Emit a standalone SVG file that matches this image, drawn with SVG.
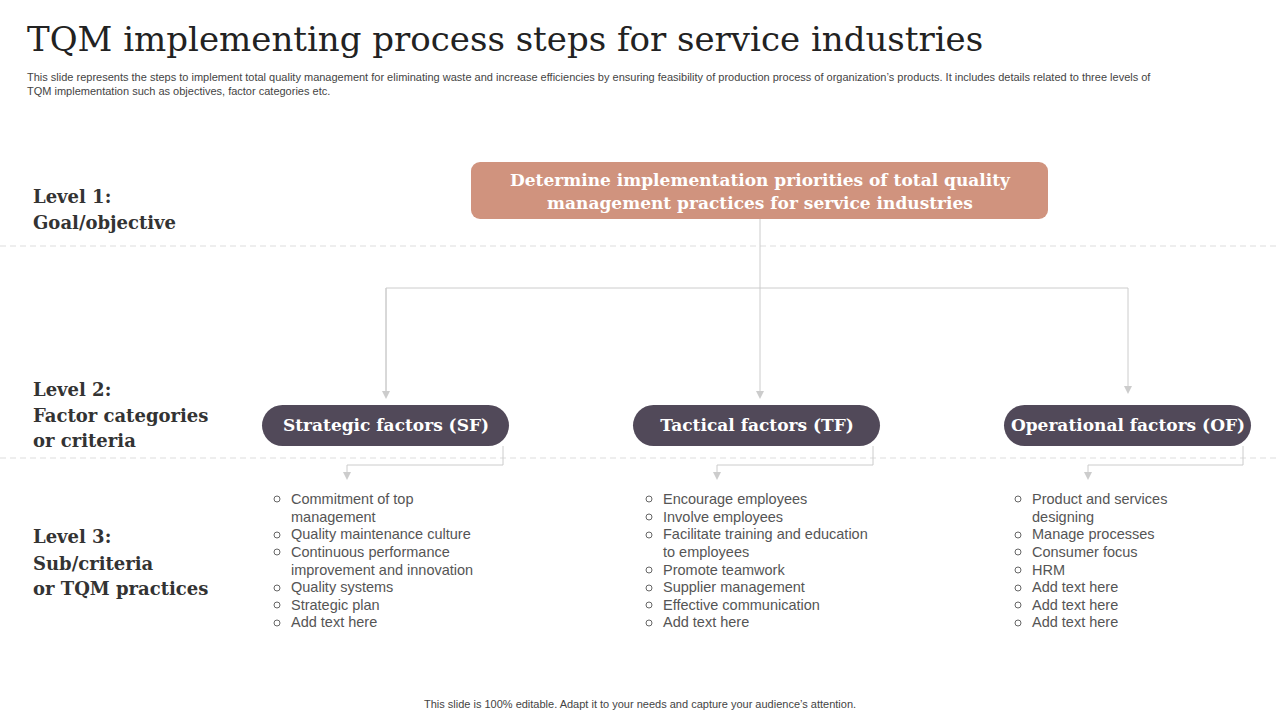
<svg xmlns="http://www.w3.org/2000/svg" width="1280" height="720" viewBox="0 0 1280 720">
<style>
.ttl{font-family:"DejaVu Serif","Liberation Serif",serif;font-size:34px;fill:#222}
.sub{font-family:"Liberation Sans",Arial,sans-serif;font-size:11px;fill:#444}
.lvl{font-family:"DejaVu Serif","Liberation Serif",serif;font-size:20px;fill:#333}
.lvlb{font-family:"DejaVu Serif","Liberation Serif",serif;font-size:18px;font-weight:bold;fill:#333}
.pill{fill:#514959}
.pt{font-family:"DejaVu Serif","Liberation Serif",serif;font-size:17px;font-weight:bold;fill:#fff;text-anchor:middle}
.li{font-family:"Liberation Sans",Arial,sans-serif;font-size:14.5px;fill:#555}
.bul{fill:none;stroke:#666;stroke-width:1}
.dash{stroke:#ddd;stroke-dasharray:6,4;stroke-width:1}
.con{fill:none;stroke:#ccc;stroke-width:1}
.foot{font-family:"Liberation Sans",Arial,sans-serif;font-size:11px;fill:#444;text-anchor:middle}
</style>
<defs><marker id="ar" markerWidth="8" markerHeight="8" refX="4" refY="4" orient="auto" markerUnits="userSpaceOnUse"><path d="M0,0 L8,4 L0,8z" fill="#ccc"/></marker></defs>
<text class="ttl" x="27" y="51">TQM implementing process steps for service industries</text>
<text class="sub" x="27" y="81">This slide represents the steps to implement total quality management for eliminating waste and increase efficiencies by ensuring feasibility of production process of organization’s products. It includes details related to three levels of</text>
<text class="sub" x="27" y="95">TQM  implementation such as objectives, factor categories etc.</text>
<line class="dash" x1="0" y1="246" x2="1280" y2="246"/>
<line class="dash" x1="0" y1="458" x2="1280" y2="458"/>
<g id="levels">
<text class="lvlb" x="33" y="203" font-size="21">Level 1:</text>
<text class="lvlb" x="33" y="229">Goal/objective</text>
<text class="lvlb" x="33" y="396" font-size="21">Level 2:</text>
<text class="lvlb" x="33" y="422">Factor categories</text>
<text class="lvlb" x="33" y="447">or criteria</text>
<text class="lvlb" x="33" y="543" font-size="21">Level 3:</text>
<text class="lvlb" x="33" y="570">Sub/criteria</text>
<text class="lvlb" x="33" y="595">or TQM practices</text>
</g>
<g id="connectors">
<path class="con" d="M760,219 V395" marker-end="url(#ar)"/>
<path class="con" d="M386,395 V288 H1128 V390" marker-end="url(#ar)"/>
<path class="con" d="M386,288 V395" marker-end="url(#ar)"/>
<path class="con" d="M503,446 V465 H347 V476" marker-end="url(#ar)"/>
<path class="con" d="M873,446 V465 H717 V476" marker-end="url(#ar)"/>
<path class="con" d="M1243,446 V465 H1088 V476" marker-end="url(#ar)"/>
</g>
<g id="goal">
<rect x="471" y="162" width="577" height="57" rx="9" fill="#d0937e"/>
<text class="pt" x="760" y="186">Determine implementation priorities of total quality</text>
<text class="pt" x="760" y="209">management practices for service industries</text>
</g>
<g id="sf"><rect class="pill" x="262" y="405" width="247" height="41" rx="20.5"/><text class="pt" x="386" y="431">Strategic factors (SF)</text></g>
<g id="tf"><rect class="pill" x="633" y="405" width="247" height="41" rx="20.5"/><text class="pt" x="757" y="431">Tactical factors (TF)</text></g>
<g id="of"><rect class="pill" x="1004" y="405" width="247" height="41" rx="20.5"/><text class="pt" x="1128" y="431">Operational factors (OF)</text></g>
<g id="sf-list">
<circle class="bul" cx="277" cy="499" r="3"/><text class="li" x="291" y="504">Commitment of top</text>
<text class="li" x="291" y="522">management</text>
<circle class="bul" cx="277" cy="535" r="3"/><text class="li" x="291" y="539">Quality maintenance culture</text>
<circle class="bul" cx="277" cy="552" r="3"/><text class="li" x="291" y="557">Continuous performance</text>
<text class="li" x="291" y="575">improvement and innovation</text>
<circle class="bul" cx="277" cy="588" r="3"/><text class="li" x="291" y="592">Quality systems</text>
<circle class="bul" cx="277" cy="605" r="3"/><text class="li" x="291" y="610">Strategic plan</text>
<circle class="bul" cx="277" cy="623" r="3"/><text class="li" x="291" y="627">Add text here</text>
</g>
<g id="tf-list">
<circle class="bul" cx="649" cy="499" r="3"/><text class="li" x="663" y="504">Encourage employees</text>
<circle class="bul" cx="649" cy="517" r="3"/><text class="li" x="663" y="522">Involve employees</text>
<circle class="bul" cx="649" cy="535" r="3"/><text class="li" x="663" y="539">Facilitate training and education</text>
<text class="li" x="663" y="557">to employees</text>
<circle class="bul" cx="649" cy="570" r="3"/><text class="li" x="663" y="575">Promote teamwork</text>
<circle class="bul" cx="649" cy="588" r="3"/><text class="li" x="663" y="592">Supplier management</text>
<circle class="bul" cx="649" cy="605" r="3"/><text class="li" x="663" y="610">Effective communication</text>
<circle class="bul" cx="649" cy="623" r="3"/><text class="li" x="663" y="627">Add text here</text>
</g>
<g id="of-list">
<circle class="bul" cx="1018" cy="499" r="3"/><text class="li" x="1032" y="504">Product and services</text>
<text class="li" x="1032" y="522">designing</text>
<circle class="bul" cx="1018" cy="535" r="3"/><text class="li" x="1032" y="539">Manage processes</text>
<circle class="bul" cx="1018" cy="552" r="3"/><text class="li" x="1032" y="557">Consumer focus</text>
<circle class="bul" cx="1018" cy="570" r="3"/><text class="li" x="1032" y="575">HRM</text>
<circle class="bul" cx="1018" cy="588" r="3"/><text class="li" x="1032" y="592">Add text here</text>
<circle class="bul" cx="1018" cy="605" r="3"/><text class="li" x="1032" y="610">Add text here</text>
<circle class="bul" cx="1018" cy="623" r="3"/><text class="li" x="1032" y="627">Add text here</text>
</g>
<text class="foot" x="640" y="708">This slide is 100% editable. Adapt it to your needs and capture your audience’s attention.</text>
</svg>
